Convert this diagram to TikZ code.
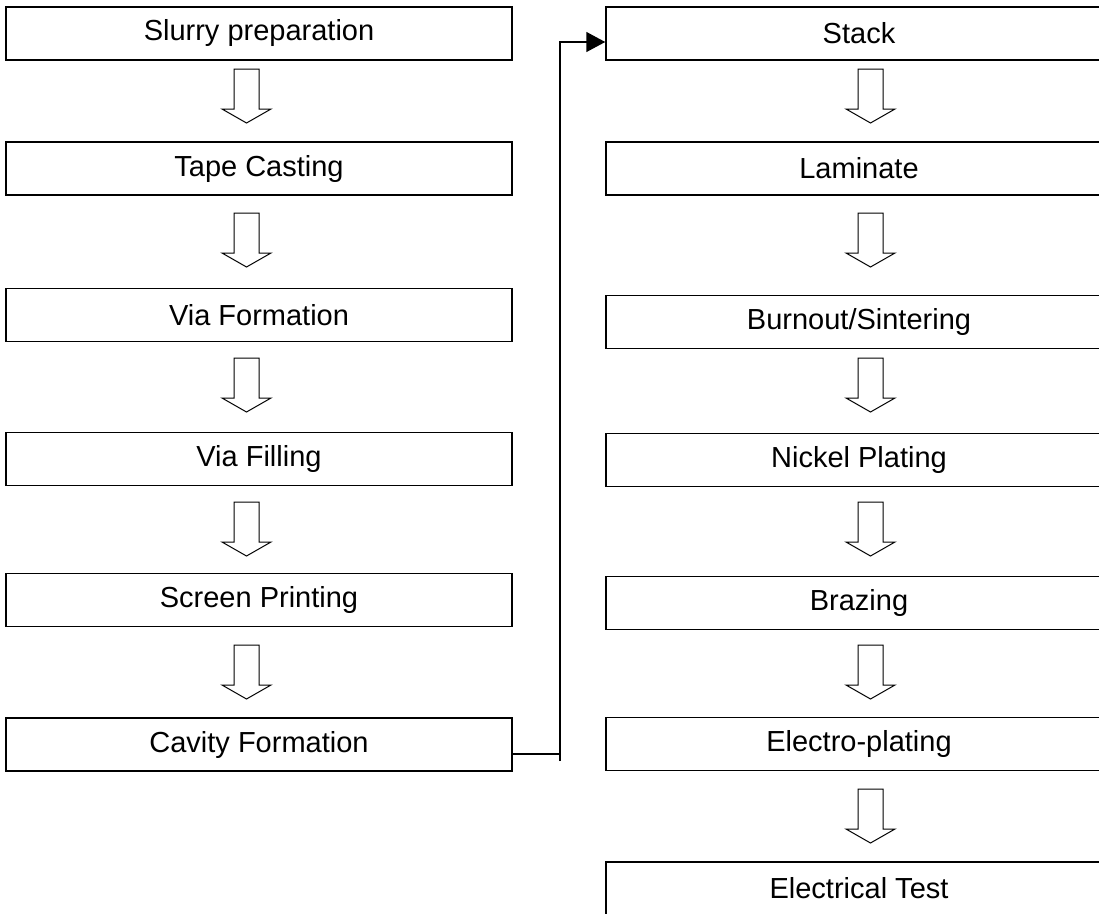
\documentclass[tikz,border=0pt]{standalone}
\usepackage{fontspec}
\setmainfont{Liberation Sans}
\usetikzlibrary{arrows.meta, calc, positioning}

\begin{document}
\begin{tikzpicture}[
  x=1pt, y=-1pt,
  stepbox/.style={rectangle, draw, line width=1.5pt, minimum width=506pt, minimum height=53pt, inner sep=0pt, font=\fontsize{29}{34}\selectfont},
  hollowdown/.pic={\draw[line width=1pt, fill=white] (-12.5,0) -- (-12.5,40) -- (-24.5,40) -- (0,54) -- (24.5,40) -- (12.5,40) -- (12.5,0) -- cycle;},
  link/.style={line width=1.5pt}
]

% Page frame (boxes on the right run past the edge)
\useasboundingbox (0,0) rectangle (1099,913);
\clip (0,0) rectangle (1099,913);

% Left column
\node[stepbox] (slurry) at (259,33.5) {Slurry preparation};
\node[stepbox] (tape) at (259,168.5) {Tape Casting};
\node[stepbox] (viaform) at (259,315) {Via Formation};
\node[stepbox] (viafill) at (259,459) {Via Filling};
\node[stepbox] (screen) at (259,600) {Screen Printing};
\node[stepbox] (cavity) at (259,744.5) {Cavity Formation};

% Right column
\node[stepbox] (stack) at (859,33.5) {Stack};
\node[stepbox] (laminate) at (859,168.5) {Laminate};
\node[stepbox] (burnout) at (859,322) {Burnout/Sintering};
\node[stepbox] (nickel) at (859,460) {Nickel Plating};
\node[stepbox] (brazing) at (859,603) {Brazing};
\node[stepbox] (electro) at (859,744) {Electro-plating};
\node[stepbox] (test) at (859,888.5) {Electrical Test};

% Hollow step arrows
\foreach \y in {69,213,358,502,645}
  \pic at (246.5,\y) {hollowdown};
\foreach \y in {69,213,358,502,645,789}
  \pic at (870.5,\y) {hollowdown};

% Link from the left column to the right one
\coordinate (turn) at ($(cavity.east)+(47,9.5)$);
\draw[link] ($(cavity.east)+(0,9.5)$) -- (turn);
\draw[link, -{Triangle[length=19pt, width=20pt]}] ($(turn)+(0,7)$) |- ($(stack.west)+(0,8.5)$);

\end{tikzpicture}
\end{document}
